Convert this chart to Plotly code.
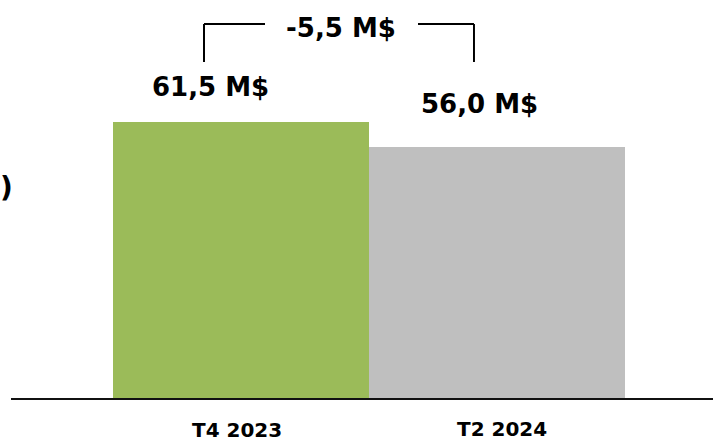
import plotly.graph_objects as go

categories = ["T4 2023", "T2 2024"]
values = [61.5, 56.0]
value_labels = ["61,5 M$", "56,0 M$"]
bar_colors = ["#9BBB59", "#BFBFBF"]
delta_label = "-5,5 M$"

FONT = "DejaVu Sans"
xpos = list(range(len(categories)))

fig = go.Figure()
fig.add_trace(go.Bar(
    x=xpos, y=values, width=1.0,
    marker=dict(color=bar_colors, line=dict(width=0)),
    hoverinfo="skip", showlegend=False,
))

annotations = []
# value labels
label_offsets = [(-0.117, 69.3), (0.932 - 1, 65.6)]
for i, (lab, (dx, ly)) in enumerate(zip(value_labels, label_offsets)):
    annotations.append(dict(x=xpos[i] + dx, y=ly, xref="x", yref="y", text=f"<b>{lab}</b>",
                            showarrow=False, xanchor="center", yanchor="middle",
                            font=dict(family=FONT, size=26, color="black")))
# category labels (below the axis, paper-referenced vertically)
cat_offsets = [(-0.012, -32 / 398), (0.023, -31 / 398)]
for i, (lab, (dx, ly)) in enumerate(zip(categories, cat_offsets)):
    annotations.append(dict(x=xpos[i] + dx, y=ly, xref="x", yref="paper", text=f"<b>{lab}</b>",
                            showarrow=False, xanchor="center", yanchor="middle",
                            font=dict(family=FONT, size=20, color="black")))
# delta label
annotations.append(dict(x=0.3945, y=82.4, xref="x", yref="y", text=f"<b>{delta_label}</b>",
                        showarrow=False, xanchor="center", yanchor="middle",
                        font=dict(family=FONT, size=26, color="black")))
# clipped axis-title remnant
annotations.append(dict(x=-5 / 702, y=47.0, xref="paper", yref="y", text="<b>)</b>",
                        showarrow=False, xanchor="center", yanchor="middle",
                        font=dict(family=FONT, size=28, color="black")))

# bracket
yb_top, yb_bot = 83.33, 74.87
xl, xl_end, xr_start, xr = -0.1426, 0.0957, 0.6934, 0.912
line = dict(color="black", width=2)
shapes = [
    dict(type="line", xref="x", yref="y", x0=xl, x1=xl, y0=yb_bot, y1=yb_top, line=line),
    dict(type="line", xref="x", yref="y", x0=xl, x1=xl_end, y0=yb_top, y1=yb_top, line=line),
    dict(type="line", xref="x", yref="y", x0=xr_start, x1=xr, y0=yb_top, y1=yb_top, line=line),
    dict(type="line", xref="x", yref="y", x0=xr, x1=xr, y0=yb_top, y1=yb_bot, line=line),
]

fig.update_layout(
    width=713, height=442,
    margin=dict(l=11, r=0, t=0, b=44),
    paper_bgcolor="white", plot_bgcolor="white",
    bargap=0,
    annotations=annotations,
    shapes=shapes,
    xaxis=dict(range=[-0.8965, 1.8457], showgrid=False, zeroline=False,
               showticklabels=False, ticks="", showline=True,
               linecolor="#111111", linewidth=2, fixedrange=True),
    yaxis=dict(range=[0, 88.68], showgrid=False, zeroline=False,
               showticklabels=False, ticks="", showline=False, fixedrange=True),
)

fig.write_html("out.html")
